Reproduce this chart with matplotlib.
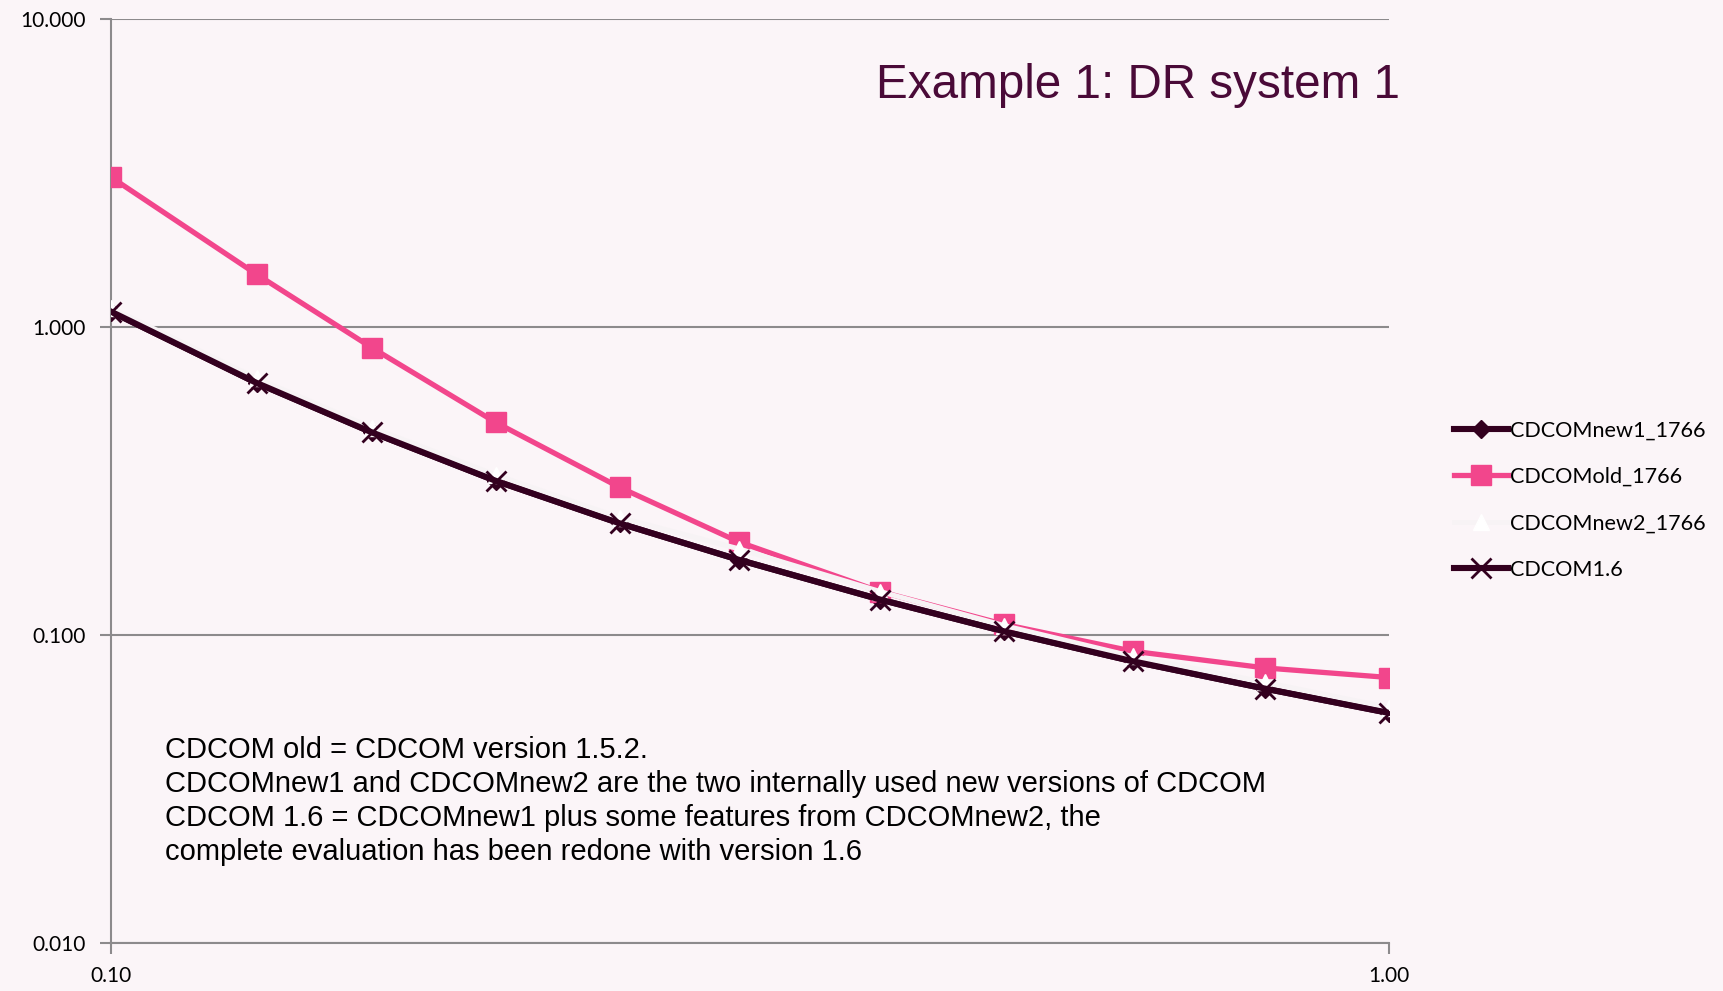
import matplotlib
matplotlib.use("Agg")
import matplotlib.pyplot as plt
from matplotlib.ticker import FixedLocator, NullLocator, FixedFormatter

# values (log-log)
x = [0.10, 0.13, 0.16, 0.20, 0.25, 0.31, 0.40, 0.50, 0.63, 0.80, 1.00]
cdcom_old = [3.06, 1.48, 0.855, 0.489, 0.301, 0.200, 0.138, 0.108, 0.0884, 0.078, 0.0726]
cdcom_16 = [1.12, 0.657, 0.454, 0.316, 0.230, 0.175, 0.130, 0.1025, 0.082, 0.0668, 0.0557]
cdcom_new1 = [1.12, 0.657, 0.454, 0.316, 0.230, 0.175, 0.130, 0.1025, 0.082, 0.0668, 0.0557]
cdcom_new2 = [1.15, 0.68, 0.47, 0.33, 0.24, 0.19, 0.138, 0.107, 0.085, 0.070, 0.058]

y_ticks = [0.01, 0.1, 1, 10]
y_labels = ["0.010", "0.100", "1.000", "10.000"]
x_ticks = [0.1, 1.0]
x_labels = ["0.10", "1.00"]

title = "Example 1: DR system 1"
note = ("CDCOM old = CDCOM version 1.5.2.\n"
        "CDCOMnew1 and CDCOMnew2 are the two internally used new versions of CDCOM\n"
        "CDCOM 1.6 = CDCOMnew1 plus some features from CDCOMnew2, the\n"
        "complete evaluation has been redone with version 1.6")

bg = "#fbf5f8"
dark = "#33001f"
pink = "#f2468c"
grid = "#8c8a8c"

plt.rcParams.update({"font.family": ["Lato", "DejaVu Sans"]})
fig = plt.figure(figsize=(17.24, 9.91), dpi=100, facecolor=bg)
ax = fig.add_axes([0.0644, 0.0488, 0.7413, 0.9322], facecolor=bg)

ax.plot(x, cdcom_new1, color=dark, lw=4.4, marker="D", ms=9, label="CDCOMnew1_1766", zorder=3)
ax.plot(x, cdcom_old, color=pink, lw=3.8, marker="s", ms=14, label="CDCOMold_1766", zorder=4)
ax.plot(x, cdcom_new2, color="#f7f3f5", lw=3.6, marker="^", ms=12, mfc="white", mec="white",
        label="CDCOMnew2_1766", zorder=5)
ax.plot(x, cdcom_16, color=dark, lw=4.4, marker="x", ms=15, mew=2.0, label="CDCOM1.6", zorder=6)

ax.set_xscale("log")
ax.set_yscale("log")
ax.set_xlim(0.1, 1.0)
ax.set_ylim(0.01, 10)

ax.yaxis.set_major_locator(FixedLocator(y_ticks))
ax.yaxis.set_major_formatter(FixedFormatter(y_labels))
ax.yaxis.set_minor_locator(NullLocator())
ax.xaxis.set_major_locator(FixedLocator(x_ticks))
ax.xaxis.set_major_formatter(FixedFormatter(x_labels))
ax.xaxis.set_minor_locator(NullLocator())

ax.grid(axis="y", color=grid, lw=1.5)
ax.set_axisbelow(True)
for side in ["top", "right"]:
    ax.spines[side].set_visible(False)
for side in ["left", "bottom"]:
    ax.spines[side].set_color(grid)
    ax.spines[side].set_linewidth(1.5)
ax.tick_params(axis="both", colors=grid, length=8, width=1.5, labelsize=15, labelcolor="black")
ax.tick_params(axis="x", pad=9)
ax.tick_params(axis="y", pad=10)

fig.text(0.812, 0.914, title, ha="right", va="center", fontsize=34.3, color="#4a0a38",
         family=["Liberation Sans", "DejaVu Sans"])
fig.text(0.0957, 0.257, note, ha="left", va="top", fontsize=21, color="black",
         linespacing=1.27, family=["Liberation Sans", "DejaVu Sans"])

leg = ax.legend(loc="center left", bbox_to_anchor=(0.832, 0.4955), bbox_transform=fig.transFigure,
                frameon=False, fontsize=15.6, handlelength=2.5, handletextpad=0.1,
                labelspacing=1.22)

fig.savefig("out.png", dpi=100, facecolor=bg)
